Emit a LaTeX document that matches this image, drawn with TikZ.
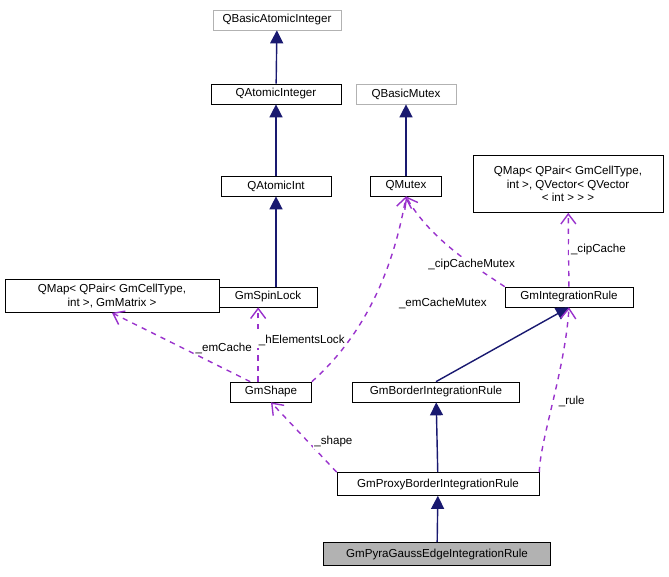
\documentclass[tikz,border=0pt]{standalone}
\usepackage{fontspec}
\setmainfont{Liberation Sans}
\usetikzlibrary{arrows.meta}
\definecolor{edgeblue}{RGB}{25,25,112}
\definecolor{edgepurple}{RGB}{153,50,204}
\begin{document}
\begin{tikzpicture}[x=0.02cm,y=-0.02cm,
    every node/.style={font=\fontsize{6.6}{7.6}\selectfont},
    align=center]
  \tikzset{%
    cls/.style = {rectangle, draw=black, fill=white, inner sep=1pt,
                  minimum height=0.4cm},
    ext/.style = {cls, draw=gray!60},
    this/.style = {cls, fill=gray!60},
    inherit/.style = {draw=edgeblue, thick, -{Triangle[width=2.6mm,length=2.6mm]}},
    member/.style = {draw=edgepurple, thick, dashed, -{Straight Barb[width=3mm,length=2mm]}},
    lbl/.style = {fill=white, inner sep=1pt},
  }
  \useasboundingbox (0,0) rectangle (669,577);
  % classes
  \node (qbai) [ext, minimum width=2.56cm] at (277,20) {QBasicAtomicInteger};
  \node (qai) [cls, minimum width=2.6cm] at (276,94) {QAtomicInteger};
  \node (qaint) [cls, minimum width=2.2cm] at (276,186) {QAtomicInt};
  \node (spin) [cls, minimum width=1.98cm] at (268,297) {GmSpinLock};
  \node (mapmat) [cls, minimum width=4.28cm, minimum height=0.66cm] at (112,296)
      {QMap\textless{} QPair\textless{} GmCellType,\\int \textgreater, GmMatrix \textgreater};
  \node (shape) [cls, minimum width=1.62cm] at (271,392) {GmShape};
  \node (qbm) [ext, minimum width=2cm] at (406,94) {QBasicMutex};
  \node (qmutex) [cls, minimum width=1.42cm] at (406,186) {QMutex};
  \node (mapvec) [cls, minimum width=3.8cm, minimum height=1.14cm] at (568,184)
      {QMap\textless{} QPair\textless{} GmCellType,\\int \textgreater, QVector\textless{} QVector\\\textless{} int \textgreater{} \textgreater{} \textgreater};
  \node (rule) [cls, minimum width=2.56cm] at (569,297) {GmIntegrationRule};
  \node (border) [cls, minimum width=3.34cm] at (436,392) {GmBorderIntegrationRule};
  \node (proxy) [cls, minimum width=4.04cm, minimum height=0.46cm] at (438,484) {GmProxyBorderIntegrationRule};
  \node (pyra) [this, minimum width=4.54cm, minimum height=0.46cm] at (437,554) {GmPyraGaussEdgeIntegrationRule};
  % inheritance
  \draw[inherit] (qai) -- (qbai);
  \draw[inherit] (qaint) -- (qai);
  \draw[inherit] (spin.north -| qaint) -- (qaint);
  \draw[inherit] (qmutex) -- (qbm);
  \draw[inherit] (border.north) -- (rule.south);
  \draw[inherit] (proxy) -- (border);
  \draw[inherit] (pyra) -- (proxy);
  % members
  \draw[member] (shape) -- node[lbl, pos=0.4, above right=-1pt] {\_emCache} (mapmat.south);
  \draw[member] (shape.north -| spin.south west) ++(40,0) coordinate (sh) -- node[lbl, right=-1pt, pos=0.55] {\_hElementsLock} (sh |- spin.south);
  \draw[member] (shape.north east) .. controls (370,330) and (395,260) .. node[lbl, pos=0.45, right=14pt] {\_emCacheMutex} (qmutex.south);
  \draw[member] (rule.north west) .. controls (480,270) and (430,240) .. node[lbl, pos=0.35] {\_cipCacheMutex} (qmutex.south);
  \draw[member] (rule) -- node[lbl, right] {\_cipCache} (mapvec);
  \draw[member] (proxy.north west) -- node[lbl, pos=0.35, above right=-1pt] {\_shape} (shape.south);
  \draw[member] (proxy.north east) .. controls (540,440) and (565,370) .. node[lbl, pos=0.5, right=2pt] {\_rule} (rule.south);
\end{tikzpicture}
\end{document}
